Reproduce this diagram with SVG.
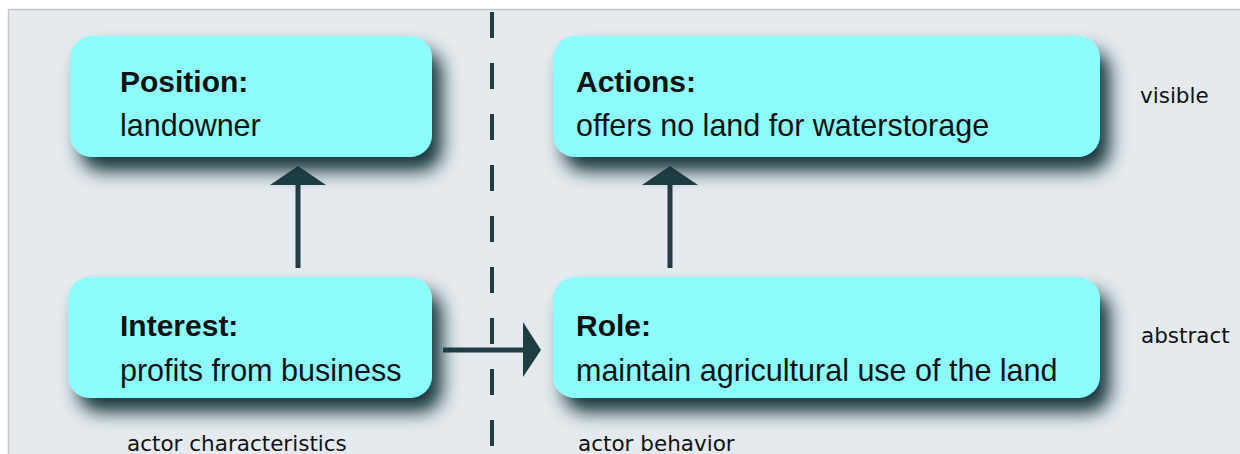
<svg xmlns="http://www.w3.org/2000/svg" width="1240" height="454" viewBox="0 0 1240 454">
  <style>
    .box { fill: #8dfcfd; filter: url(#shadow); }
    .title { font-family: "Liberation Sans", Arial, sans-serif; font-weight: bold; font-size: 30px; fill: #111; }
    .body { font-family: "Liberation Sans", Arial, sans-serif; font-size: 30.5px; fill: #111; }
    .label { font-family: "DejaVu Sans", sans-serif; font-size: 21.5px; fill: #111; }
    .conn { stroke: #1f3d42; stroke-width: 5; fill: none; }
    .head { fill: #1f3d42; }
  </style>
  <defs>
    <filter id="shadow" x="-15%" y="-30%" width="140%" height="180%">
      <feGaussianBlur in="SourceAlpha" stdDeviation="9" result="b"/>
      <feOffset in="b" dx="10" dy="14" result="o"/>
      <feFlood flood-color="#15363c" flood-opacity="1"/>
      <feComposite in2="o" operator="in" result="s"/>
      <feMerge>
        <feMergeNode in="s"/>
        <feMergeNode in="SourceGraphic"/>
      </feMerge>
    </filter>
  </defs>

  <rect x="0" y="0" width="1240" height="454" fill="#ffffff"/>
  <rect x="8.5" y="9.5" width="1240" height="450" fill="#e4eaee" stroke="#c4c8ca" stroke-width="1.5"/>

  <g id="divider">
    <line x1="492" y1="12" x2="492" y2="454" stroke="#1f3d42" stroke-width="4" stroke-dasharray="26 25"/>
  </g>

  <g id="connectors">
    <line class="conn" x1="298" y1="268" x2="298" y2="183"/>
    <polygon class="head" points="270,185 326,185 298,166"/>
    <line class="conn" x1="670" y1="268" x2="670" y2="183"/>
    <polygon class="head" points="642,185 698,185 670,166"/>
    <line class="conn" x1="443" y1="350" x2="526" y2="350"/>
    <polygon class="head" points="523,322 523,377 541,350"/>
  </g>

  <g id="position">
    <rect class="box" x="70" y="36" width="362" height="121" rx="22"/>
    <text class="title" x="120" y="92">Position:</text>
    <text class="body" x="120" y="136">landowner</text>
  </g>

  <g id="actions">
    <rect class="box" x="553" y="36" width="547" height="121" rx="22"/>
    <text class="title" x="576" y="92">Actions:</text>
    <text class="body" x="576" y="136">offers no land for waterstorage</text>
  </g>

  <g id="interest">
    <rect class="box" x="68" y="277" width="364" height="121" rx="22"/>
    <text class="title" x="120" y="336">Interest:</text>
    <text class="body" x="120" y="381">profits from business</text>
  </g>

  <g id="role">
    <rect class="box" x="553" y="277" width="547" height="121" rx="22"/>
    <text class="title" x="576" y="336">Role:</text>
    <text class="body" x="576" y="381">maintain agricultural use of the land</text>
  </g>

  <g id="labels">
    <text class="label" x="1140" y="103">visible</text>
    <text class="label" x="1141" y="343">abstract</text>
    <text class="label" x="127" y="451">actor characteristics</text>
    <text class="label" x="578" y="451">actor behavior</text>
  </g>
</svg>
